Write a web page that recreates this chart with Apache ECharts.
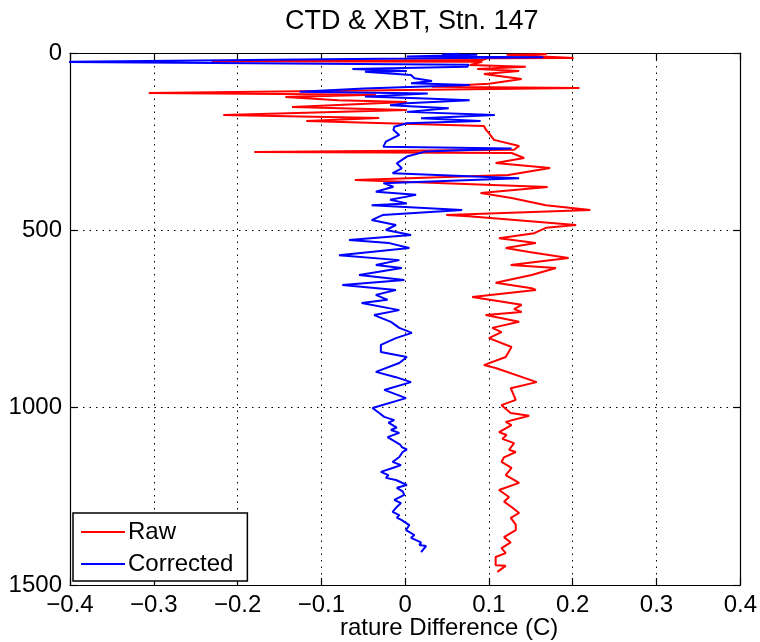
<!DOCTYPE html>
<html>
<head>
<meta charset="utf-8">
<script src="https://cdn.jsdelivr.net/npm/echarts@6/dist/echarts.min.js"></script>
<style>html,body{margin:0;padding:0;background:#fff;}#c{width:760px;height:642px;}</style>
</head>
<body>
<div id="c"></div>
<script>
const titleText = 'CTD & XBT, Stn. 147';
const xLabelText = 'rature Difference (C)';
const xTicks = [-0.4, -0.3, -0.2, -0.1, 0, 0.1, 0.2, 0.3, 0.4];
const yTicks = [0, 500, 1000, 1500];
const seriesNames = ['Raw', 'Corrected'];

const rawX = [0.169,0.121,0.201,0.098,0.092,-0.231,0.092,0.077,0.144,0.086,0.136,0.094,0.139,0.100,0.032,0.208,-0.306,-0.035,-0.143,-0.080,0.002,-0.135,0.002,-0.217,-0.031,-0.118,0.094,0.096,0.100,0.106,0.136,0.130,-0.180,0.127,0.142,0.108,0.173,0.123,-0.060,0.170,0.090,0.127,0.168,0.221,0.049,0.076,0.204,0.168,0.154,0.112,0.156,0.120,0.148,0.195,0.126,0.180,0.151,0.108,0.151,0.156,0.080,0.139,0.130,0.139,0.096,0.136,0.104,0.115,0.100,0.127,0.120,0.094,0.108,0.157,0.126,
  0.132,0.115,0.126,0.148,0.120,0.127,0.112,0.121,0.116,0.130,0.124,0.132,0.118,0.115,0.127,0.120,0.136,0.112,0.124,0.118,0.127,0.136,0.126,0.132,0.132,0.118,0.126,0.115,0.120,0.108,0.108,0.120,0.110];
const rawDepth = [3,5,14,15,20,23,25,34,39,45,51,59,73,87,95,99,113,118,124,133,138,152,161,175,183,192,206,215,226,245,262,273,279,282,296,310,324,344,358,378,395,409,429,443,457,460,485,493,508,522,536,550,561,578,598,606,626,648,663,668,688,710,722,730,739,758,775,787,804,829,857,880,888,928,945,
  978,993,1015,1023,1040,1049,1069,1077,1088,1100,1119,1125,1140,1153,1170,1190,1212,1232,1252,1265,1280,1297,1311,1330,1345,1365,1380,1396,1410,1421,1444,1446,1463];

const corrX = [0.064,0.044,0.086,0.002,0.165,-0.126,-0.404,0.076,0.074,-0.063,0.002,-0.048,0.007,0.011,0.032,0.007,0.077,-0.049,-0.126,0.027,-0.048,0.024,0.077,0.002,-0.018,0.052,0.002,0.107,0.019,0.090,0.002,-0.013,-0.014,-0.007,-0.023,-0.026,0.127,0.024,0.002,-0.010,-0.004,-0.015,0.136,-0.026,-0.014,-0.035,0.013,-0.018,0.002,-0.040,0.068,-0.027,-0.040,-0.011,-0.023,0.007,-0.067,-0.019,0.005,-0.079,-0.007,-0.035,-0.004,-0.055,-0.001,-0.075,-0.011,-0.035,-0.021,-0.052,-0.007,-0.037,-0.017,-0.007,0.008,-0.011,-0.029,-0.029,0.002,-0.007,-0.035,-0.011,0.007,-0.025,
  0.001,-0.039,-0.031,-0.025,-0.013,-0.020,-0.015,-0.010,-0.017,-0.007,-0.021,-0.011,-0.006,-0.004,0.002,-0.003,-0.007,-0.015,-0.005,-0.015,-0.029,-0.020,-0.023,-0.011,0.002,-0.010,-0.003,-0.001,-0.013,-0.005,-0.010,-0.015,-0.007,-0.010,-0.004,0.005,0.001,0.011,0.007,0.019,0.017,0.025,0.019];
const corrDepth = [2,4,5,10,12,18,25,33,39,45,51,53,62,71,79,85,90,100,109,114,123,128,133,142,147,156,166,175,184,192,198,208,217,231,250,264,269,278,292,311,325,339,353,367,377,391,400,414,424,429,443,457,471,485,499,513,527,536,550,570,584,598,606,626,640,654,668,682,696,705,725,739,758,775,789,804,823,843,857,874,899,914,928,950,
  973,1001,1015,1026,1035,1042,1049,1056,1063,1071,1083,1097,1104,1111,1118,1125,1139,1153,1162,1170,1181,1190,1198,1204,1218,1226,1236,1246,1260,1269,1280,1294,1303,1310,1317,1331,1345,1359,1367,1380,1387,1390,1407];

const zip = (xs, ys) => xs.map((v, i) => [v, ys[i]]);
const FONT = '"Liberation Sans", Arial, Helvetica, sans-serif';
const fmtX = v => { const r = Math.round(v * 10) / 10; if (r === 0) return '0'; return (r < 0 ? '\u2212' : '') + Math.abs(r).toFixed(1); };
const fmtY = v => String(Math.round(v));

const chart = echarts.init(document.getElementById('c'), null, {renderer: 'canvas'});
const axisLineStyle = {color: '#000', width: 1.2};
chart.setOption({
  animation: false,
  backgroundColor: '#fff',
  title: {
    text: titleText, left: 280, top: 3,
    textStyle: {fontFamily: FONT, fontSize: 27, fontWeight: 'normal', color: '#000'}
  },
  graphic: [{
    type: 'text', left: 340, top: 616,
    style: {text: xLabelText, font: '24px ' + FONT, fill: '#000'}
  }],
  legend: {
    data: seriesNames, orient: 'vertical', left: 73, top: 513,
    icon: 'rect', itemWidth: 44, itemHeight: 2, itemGap: 8,
    padding: [7, 14, 5, 8],
    backgroundColor: '#fff', borderColor: '#000', borderWidth: 1.5, borderRadius: 0,
    textStyle: {fontFamily: FONT, fontSize: 24, color: '#000', padding: [0, 0, 0, -2]}
  },
  grid: {left: 70, right: 18, top: 53, bottom: 57, containLabel: false},
  xAxis: [{
    type: 'value', position: 'bottom', min: -0.4, max: 0.4, interval: 0.1,
    axisLine: {show: true, onZero: false, lineStyle: axisLineStyle},
    axisTick: {show: true, inside: true, length: 7, lineStyle: axisLineStyle},
    axisLabel: {formatter: fmtX, margin: 8, fontFamily: FONT, fontSize: 24, color: '#000', showMinLabel: true, showMaxLabel: true},
    splitLine: {show: true, lineStyle: {color: '#000', type: [1.5, 5], width: 1}}
  }, {
    type: 'value', position: 'top', min: -0.4, max: 0.4, interval: 0.1,
    axisLine: {show: true, onZero: false, lineStyle: axisLineStyle},
    axisTick: {show: true, inside: true, length: 7, lineStyle: axisLineStyle},
    axisLabel: {show: false}, splitLine: {show: false}
  }],
  yAxis: [{
    type: 'value', inverse: true, min: 0, max: 1500, interval: 500, position: 'left',
    axisLine: {show: true, onZero: false, lineStyle: axisLineStyle},
    axisTick: {show: true, inside: true, length: 7, lineStyle: axisLineStyle},
    axisLabel: {formatter: fmtY, margin: 8, fontFamily: FONT, fontSize: 24, color: '#000', showMinLabel: true, showMaxLabel: true},
    splitLine: {show: true, lineStyle: {color: '#000', type: [1.5, 5], width: 1}}
  }, {
    type: 'value', inverse: true, min: 0, max: 1500, interval: 500, position: 'right',
    axisLine: {show: true, onZero: false, lineStyle: axisLineStyle},
    axisTick: {show: true, inside: true, length: 7, lineStyle: axisLineStyle},
    axisLabel: {show: false}, splitLine: {show: false}
  }],
  series: [{
    name: seriesNames[0], type: 'line', xAxisIndex: 0, yAxisIndex: 0,
    data: zip(rawX, rawDepth), showSymbol: false, symbol: 'none', clip: true,
    lineStyle: {color: '#ff0000', width: 2}, itemStyle: {color: '#ff0000'}
  }, {
    name: seriesNames[1], type: 'line', xAxisIndex: 0, yAxisIndex: 0,
    data: zip(corrX, corrDepth), showSymbol: false, symbol: 'none', clip: true,
    lineStyle: {color: '#0000ff', width: 2}, itemStyle: {color: '#0000ff'}
  }]
});
</script>
</body>
</html>
